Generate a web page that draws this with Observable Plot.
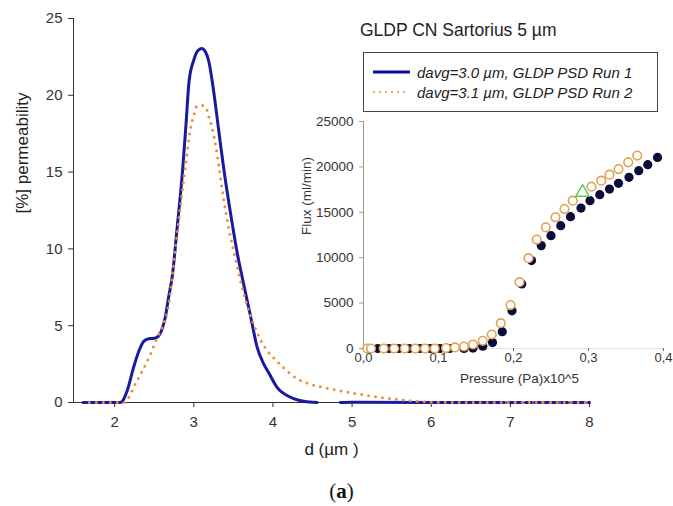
<!DOCTYPE html>
<html>
<head>
<meta charset="utf-8">
<script src="https://cdn.jsdelivr.net/npm/d3@7"></script>
<script src="https://cdn.jsdelivr.net/npm/@observablehq/plot@0.6"></script>
<style>
  html, body { margin: 0; padding: 0; background: white; }
  #wrap { position: relative; width: 673px; height: 506px; background: white; font-family: "Liberation Sans", Arial, sans-serif; color: #333; overflow: hidden; }
  #main { position: absolute; left: 0; top: 0; }
  #inset { position: absolute; left: 290px; top: 110px; }
  #title { position: absolute; left: 360px; top: 20px; font-size: 17.5px; line-height: 20px; color: #222; white-space: nowrap; }
  #legend { position: absolute; left: 363px; top: 52px; width: 293px; height: 58px; border: 1px solid #444; background: white; }
  .row { position: absolute; left: 8px; height: 20px; display: flex; align-items: center; white-space: nowrap; }
  .row span { font-style: italic; font-size: 15px; color: #222; margin-left: 6px; }
  #cap { position: absolute; left: 0; width: 683px; top: 479px; text-align: center; font-family: "Liberation Serif", "DejaVu Serif", serif; font-size: 21px; line-height: 24px; color: #111; }
</style>
</head>
<body>
<div id="wrap">
  <div id="main"></div>
  <div id="inset"></div>
  <div id="title">GLDP CN Sartorius 5 µm</div>
  <div id="legend">
    <div class="row" style="top:9px"><svg width="39" height="8"><line x1="1" y1="4" x2="38" y2="4" stroke="#0a0a96" stroke-width="3"/></svg><span>davg=3.0 µm, GLDP PSD Run 1</span></div>
    <div class="row" style="top:29px"><svg width="39" height="8"><line x1="2" y1="4" x2="38" y2="4" stroke="#e8913c" stroke-width="2" stroke-dasharray="0,6" stroke-linecap="round"/></svg><span>davg=3.1 µm, GLDP PSD Run 2</span></div>
  </div>
  <div id="cap">(<b>a</b>)</div>
</div>
<script>
// ---- Main chart: pore size distribution ----
const run1D = [1.60, 1.80, 2.00, 2.07, 2.10, 2.16, 2.24, 2.31, 2.37, 2.43, 2.50, 2.55, 2.60, 2.64, 2.68, 2.73, 2.79, 2.855, 2.90, 2.94, 3.00, 3.05, 3.10, 3.15, 3.19, 3.25, 3.32, 3.40, 3.465, 3.55, 3.63, 3.72, 3.80, 3.885, 3.95, 4.05, 4.22, 4.39, 4.56, 4.70, 4.85, 5.00, 6.00, 6.85];
const run1P = [0, 0, 0, 0, 0.1, 0.8, 2.3, 3.4, 4.0, 4.15, 4.18, 4.3, 4.8, 5.55, 6.8, 8.3, 11.4, 14.9, 18.0, 20.9, 22.3, 22.9, 23.05, 22.8, 22.2, 20.3, 17.5, 14.45, 12.3, 9.7, 7.7, 5.55, 3.6, 2.5, 1.9, 1.0, 0.35, 0.08, 0, NaN, 0, 0.02, 0, 0];
const run1TailD = [6.85, 8.0];
const run1TailP = [0, 0];
const run2D = [1.68, 1.90, 2.05, 2.12, 2.18, 2.24, 2.33, 2.45, 2.54, 2.60, 2.69, 2.74, 2.80, 2.855, 2.91, 2.96, 3.00, 3.04, 3.10, 3.15, 3.19, 3.23, 3.30, 3.36, 3.44, 3.53, 3.61, 3.70, 3.80, 3.91, 4.05, 4.22, 4.31, 4.47, 4.77, 5.19, 5.61, 6.03, 6.50, 8.00];
const run2P = [0, 0, 0, 0, 0.35, 1.0, 1.87, 3.1, 4.25, 4.9, 6.6, 8.8, 11.4, 13.8, 16.0, 17.9, 18.7, 19.3, 19.35, 19.25, 18.6, 17.9, 16.0, 13.8, 11.4, 9.24, 7.5, 5.9, 4.55, 3.5, 2.7, 1.87, 1.54, 1.2, 0.85, 0.46, 0.18, 0.02, 0, 0];
const mainXTicks = [2, 3, 4, 5, 6, 7, 8];
const mainYTicks = [0, 5, 10, 15, 20, 25];

// ---- Inset: flux vs pressure ----
const press1 = [0.019, 0.034, 0.047, 0.061, 0.075, 0.089, 0.102, 0.115, 0.134, 0.146, 0.159, 0.172, 0.185, 0.198, 0.211, 0.224, 0.237, 0.250, 0.263, 0.276, 0.290, 0.302, 0.315, 0.328, 0.340, 0.354, 0.367, 0.379, 0.392];
const flux1 = [0, 0, 0, 0, 0, 0, 0, 0, 0, 50, 250, 650, 1850, 4150, 7110, 9680, 11330, 12430, 13530, 14520, 15470, 16280, 16940, 17560, 18190, 18850, 19580, 20240, 21040];
const press2 = [0.005, 0.010, 0.027, 0.041, 0.055, 0.069, 0.082, 0.095, 0.110, 0.122, 0.134, 0.146, 0.159, 0.171, 0.183, 0.196, 0.208, 0.220, 0.231, 0.243, 0.256, 0.268, 0.279, 0.304, 0.317, 0.328, 0.340, 0.353, 0.365];
const flux2 = [0, 0, 0, 0, 0, 0, 0, 0, 50, 120, 220, 440, 850, 1540, 2790, 4780, 7300, 9950, 12000, 13350, 14450, 15360, 16280, 17820, 18480, 19140, 19760, 20500, 21250];
const pressTri = [0.292];
const fluxTri = [17200];
const insetXTicks = [0, 0.1, 0.2, 0.3, 0.4];
const insetYTicks = [0, 5000, 10000, 15000, 20000, 25000];

const BLUE = "#1a1a9e", ORANGE = "#e8913c";
const zip = (xs, ys) => xs.map((x, i) => ({x, y: ys[i]}));
const run1 = zip(run1D, run1P), run1Tail = zip(run1TailD, run1TailP), run2 = zip(run2D, run2P);
const ins1 = zip(press1, flux1), ins2 = zip(press2, flux2), insTri = zip(pressTri, fluxTri);
const FONT = "'Liberation Sans', Arial, sans-serif";

const main = Plot.plot({
  width: 673, height: 475,
  marginLeft: 73, marginRight: 84, marginTop: 18, marginBottom: 73,
  x: {domain: [1.48, 8]},
  y: {domain: [0, 25]},
  style: {fontFamily: FONT, fontSize: "15px", color: "#333", background: "transparent", overflow: "visible"},
  marks: [
    Plot.axisY({ticks: mainYTicks, tickSize: 5, tickPadding: 6, tickFormat: d => String(d), label: null, stroke: "#333"}),
    Plot.axisX({ticks: mainXTicks, tickSize: 5, tickPadding: 9, tickFormat: d => String(d), label: null, stroke: "#333"}),
    Plot.ruleX([1.48], {stroke: "#333"}),
    Plot.ruleY([0], {stroke: "#333"}),
    Plot.line(run1, {x: "x", y: "y", stroke: BLUE, strokeWidth: 3, curve: "monotone-x"}),
    Plot.line(run1Tail, {x: "x", y: "y", stroke: BLUE, strokeWidth: 3, strokeDasharray: "6,3"}),
    Plot.line(run2, {x: "x", y: "y", stroke: ORANGE, strokeWidth: 3, strokeDasharray: "0,7", strokeLinecap: "round", curve: "monotone-x"}),
    Plot.text(["[%] permeability"], {frameAnchor: "left", dx: -51, dy: 3, rotate: -90, fontSize: 17, fill: "#222"}),
    Plot.text(["d (µm )"], {frameAnchor: "bottom", dy: 52, fontSize: 17, fill: "#222"})
  ]
});
document.getElementById("main").appendChild(main);

const inset = Plot.plot({
  width: 383, height: 290,
  marginLeft: 73, marginRight: 10, marginTop: 11, marginBottom: 52,
  x: {domain: [0, 0.4]},
  y: {domain: [0, 25000]},
  style: {fontFamily: FONT, fontSize: "13px", color: "#333", background: "transparent", overflow: "visible"},
  marks: [
    Plot.ruleY([0], {stroke: "#e2e2e2"}),
    Plot.ruleX([0], {stroke: "#999"}),
    Plot.axisY({ticks: insetYTicks, tickSize: 4, tickPadding: 6, tickFormat: d => String(d), label: null, stroke: "#999", fontSize: 13.5}),
    Plot.axisX({ticks: insetXTicks, tickSize: 3, tickPadding: 1, tickFormat: d => d.toFixed(1).replace(".", ","), label: null, stroke: "#666", fontSize: 13}),
    Plot.dot(ins1, {x: "x", y: "y", r: 4.6, fill: "#0b0b3c"}),
    Plot.dot(ins2, {x: "x", y: "y", r: 4.3, fill: "white", stroke: "#e0a255", strokeWidth: 1.6}),
    Plot.dot(insTri, {x: "x", y: "y", r: 5, symbol: "triangle", fill: "white", stroke: "#55cc55", strokeWidth: 1.4}),
    Plot.text(["Flux (ml/min)"], {frameAnchor: "left", dx: -57, rotate: -90, fontSize: 13.5, fill: "#333"}),
    Plot.text(["Pressure (Pa)x10^5"], {frameAnchor: "bottom", dx: 6, dy: 34, fontSize: 13.5, fill: "#333"})
  ]
});
document.getElementById("inset").appendChild(inset);
</script>
</body>
</html>
